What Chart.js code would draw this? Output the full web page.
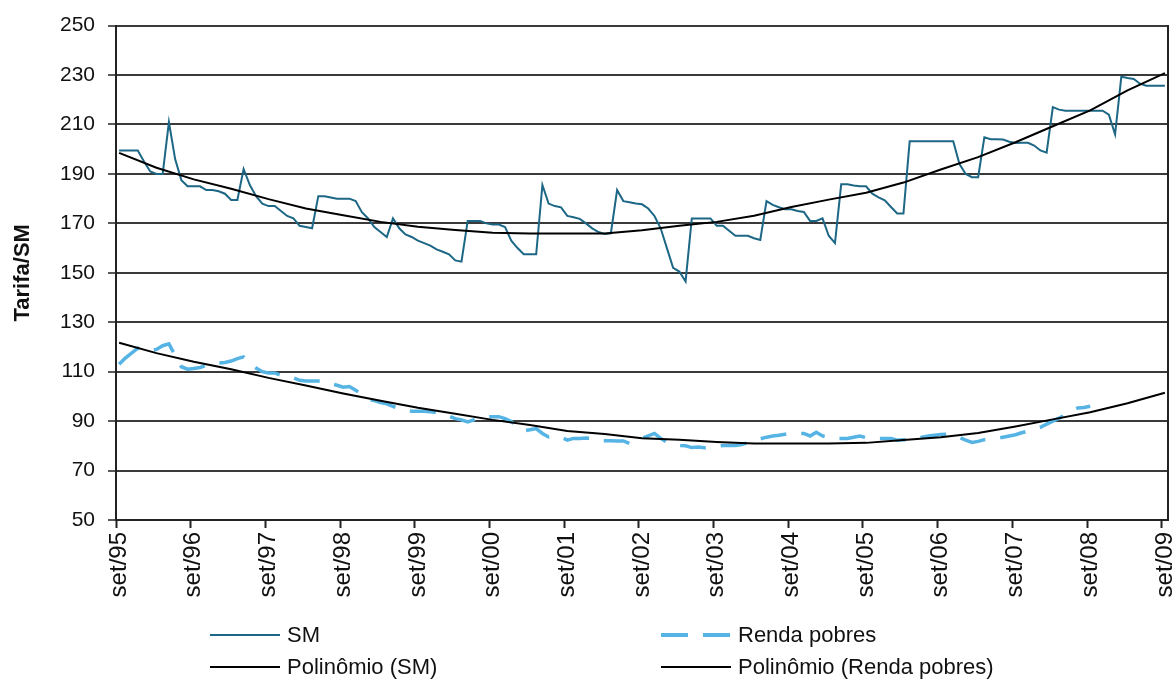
<!DOCTYPE html>
<html>
<head>
<meta charset="utf-8">
<script src="https://cdn.jsdelivr.net/npm/chart.js@4.4.1/dist/chart.umd.min.js"></script>
<style>
  html, body { margin: 0; padding: 0; background: #fff; }
  #wrap { position: relative; width: 1176px; height: 682px; overflow: hidden; }
  canvas { position: absolute; left: 0; top: 0; }
  .lg { position: absolute; font-family: "Liberation Sans", Arial, sans-serif; font-size: 22px; color: #111; line-height: 26px; white-space: nowrap; }
  .sw { position: absolute; }
</style>
</head>
<body>
<div id="wrap">
  <canvas id="c" width="1176" height="682"></canvas>
  <div id="legend"></div>
</div>
<script>
// ---- categories (monthly, set/95 .. set/09) ----
const monthNames = ["set","out","nov","dez","jan","fev","mar","abr","mai","jun","jul","ago"];
const startYear = 95;
const monthCount = 169;
const categories = [];
for (let i = 0; i < monthCount; i++) {
  const mi = i % 12;
  const yr = (startYear + Math.floor((i + 8) / 12)) % 100;
  categories.push(monthNames[mi] + "/" + String(yr).padStart(2, "0"));
}

// ---- series values ----
const smValues = [
  199.5,199.5,199.5,199.5,195,191,190,190,211,196,187.5,185,
  185,185,183.5,183.5,183,182,179.5,179.5,192,185.5,181,178,
  177,177,175,173,172,169,168.5,168,181,181,180.5,180,
  180,180,179,174.5,172,168.5,166.5,164.5,172,168,165.5,164.5,
  163,162,161,159.5,158.5,157.5,155,154.5,171,171,171,170,
  169.5,169.5,168.5,163,160,157.5,157.5,157.5,185.5,178,177,176.5,
  173,172.5,171.8,170,168,166.5,165.7,166,183.5,179,178.5,178,
  177.7,176,173,168,160,152,150.5,146.5,172,172,172,172,
  169,169,167,165,165,165,164,163.3,179,177.5,176.5,175.7,
  175.7,175,174.6,171,171,172,165,162,185.8,185.8,185.3,185,
  185,182,180.5,179.3,176.6,174,174,203.2,203.2,203.2,203.2,203.2,
  203.2,203.2,203.2,194,190,188.7,188.7,204.8,204,204,203.9,203,
  202.5,202.6,202.6,201.5,199.5,198.6,217,216,215.6,215.6,215.6,215.6,
  215.6,215.6,215.6,214,206,229.3,228.8,228.4,226.5,225.7,225.7,225.7,
  225.7
];

const rendaValues = [
  113,115.5,117.5,119.5,119,118.5,119,120.5,121.3,116.5,112,111,
  111.3,111.7,112.5,113.5,113.5,113.7,114.3,115.3,116,113.5,111.5,110,
  109.5,109.5,108.5,107.7,107.5,106.5,106.2,106.2,106.2,106.2,105.2,104.5,
  103.7,104,102.5,100.8,98.8,98.3,97.5,97,96,95,94.3,94,
  94,94,93.8,93.5,93,92,91,90.5,89.7,90.5,91.8,91.8,
  91.8,91.8,91,89.8,88,86,86.5,87,85,83.6,84,83.5,
  82.3,83,83,83.2,83,82.2,82.1,82.1,82,82,81,82,
  83,84,85,83,81.5,81,80.1,80,79.3,79.5,79.2,79.4,
  79.8,80.1,80.1,80.1,80.5,81.3,82,82.8,83.5,84,84.3,84.7,
  85,85,85,84,85.5,84,83.3,83,83,83,83.5,84,
  83.3,83,83,83,83,82.3,82.5,82.5,82.8,83.5,84,84.3,
  84.6,84.7,84.5,83.4,82.3,81.4,81.8,82.5,82.8,83,83.5,84,
  84.5,85.3,86,86.8,87.5,88.8,90,91.2,92.5,94,95.3,95.5,
  96
];

// trend lines, read every 6 months (month index from set/95)
const trendMonths = [0,6,12,18,24,30,36,42,48,54,60,66,72,78,84,90,96,102,108,114,120,126,132,138,144,150,156,162,168];
const trendSM = [198.5,192.5,187.8,184,179.8,176,173.3,170.6,168.6,167.3,166.2,165.9,165.9,165.9,167.2,169,170.6,173.1,176.6,179.6,182.4,186.5,191.8,196.8,202.8,209.3,215.7,223.8,230.8];
const trendRenda = [121.7,117.5,114,111,107.5,104.4,101.2,98.2,95.4,93,90.5,88.4,86,84.8,83.1,82.5,81.6,80.9,80.9,80.9,81.2,82.4,83.5,85.2,87.8,90.7,93.6,97.2,101.5];

// y ticks
const yMin = 50, yMax = 250, yStep = 20;
const yTitle = "Tarifa/SM";
const seriesNames = ["SM", "Renda pobres", "Polinômio (SM)", "Polinômio (Renda pobres)"];

// ---- styles ----
const colSM = "#1D6786";
const colRenda = "#56B4E4";
const colTrend = "#000000";
const axisCol = "#222222";
const gridCol = "#3a3a3a";
const fontFam = '"Liberation Sans", Arial, sans-serif';

const pairs = (ms, ys) => ms.map((m, i) => ({ x: categories[m], y: ys[i] }));

const chart = new Chart(document.getElementById("c"), {
  type: "line",
  data: {
    labels: categories,
    datasets: [
      { label: seriesNames[0], data: smValues, borderColor: colSM, borderWidth: 2, pointRadius: 0, tension: 0, order: 3, yAxisID: "y" },
      { label: seriesNames[1], data: rendaValues, borderColor: colRenda, borderWidth: 3.5, borderDash: [26, 15], borderCapStyle: "butt", pointRadius: 0, tension: 0, order: 2, yAxisID: "y" },
      { label: seriesNames[2], data: pairs(trendMonths, trendSM), borderColor: colTrend, borderWidth: 2, pointRadius: 0, tension: 0, order: 1, yAxisID: "y" },
      { label: seriesNames[3], data: pairs(trendMonths, trendRenda), borderColor: colTrend, borderWidth: 2, pointRadius: 0, tension: 0, order: 0, yAxisID: "y" }
    ]
  },
  options: {
    responsive: false,
    animation: false,
    devicePixelRatio: 1,
    layout: { padding: { top: 24, right: 8, bottom: 0, left: 0 } },
    plugins: { legend: { display: false }, tooltip: { enabled: false } },
    scales: {
      x: {
        type: "category",
        offset: true,
        afterFit: (s) => { s.height = 162; s.paddingLeft = 0; s.paddingRight = 0; },
        grid: {
          offset: true,
          drawOnChartArea: false,
          drawTicks: true,
          tickLength: 8,
          tickWidth: 2,
          tickColor: (ctx) => (ctx.index % 12 === 0 ? axisCol : "rgba(0,0,0,0)")
        },
        border: { display: true, color: axisCol, width: 2 },
        ticks: {
          autoSkip: false,
          minRotation: 90,
          maxRotation: 90,
          padding: 4,
          color: "#111",
          font: { family: fontFam, size: 24 },
          callback: function (v, i) { return i % 12 === 0 ? categories[i] : ""; }
        }
      },
      y: {
        type: "linear",
        position: "left",
        min: yMin,
        max: yMax,
        afterFit: (s) => { s.width = 116; },
        ticks: { stepSize: yStep, padding: 13, color: "#111", font: { family: fontFam, size: 21 } },
        grid: { color: gridCol, lineWidth: 2, tickLength: 8, tickColor: axisCol, tickWidth: 1.5 },
        border: { display: true, color: axisCol, width: 2 },
        title: { display: true, text: yTitle, color: "#111", font: { family: fontFam, size: 22, weight: "bold" }, padding: { top: 10, bottom: 0 } }
      },
      y2: {
        type: "linear",
        position: "right",
        min: yMin,
        max: yMax,
        afterFit: (s) => { s.width = 0; },
        ticks: { display: false },
        grid: { drawOnChartArea: false, drawTicks: false },
        border: { display: true, color: axisCol, width: 2 }
      }
    }
  }
});

// ---- HTML legend ----
(function () {
  const lg = document.getElementById("legend");
  const items = [
    { name: seriesNames[0], type: "solid", color: colSM, x: 210, y: 635 },
    { name: seriesNames[1], type: "dash", color: colRenda, x: 661, y: 635 },
    { name: seriesNames[2], type: "solid", color: colTrend, x: 210, y: 667 },
    { name: seriesNames[3], type: "solid", color: colTrend, x: 661, y: 667 }
  ];
  items.forEach(function (it) {
    const sw = document.createElement("div");
    sw.className = "sw";
    sw.style.left = it.x + "px";
    sw.style.width = "70px";
    if (it.type === "dash") {
      sw.style.height = "4px";
      sw.style.top = (it.y - 2) + "px";
      sw.style.background = "repeating-linear-gradient(to right, " + it.color + " 0px, " + it.color + " 27px, transparent 27px, transparent 42px)";
    } else {
      sw.style.height = "2px";
      sw.style.top = (it.y - 1) + "px";
      sw.style.background = it.color;
    }
    lg.appendChild(sw);
    const t = document.createElement("div");
    t.className = "lg";
    t.style.left = (it.x + 77) + "px";
    t.style.top = (it.y - 13) + "px";
    t.textContent = it.name;
    lg.appendChild(t);
  });
})();
</script>
</body>
</html>
